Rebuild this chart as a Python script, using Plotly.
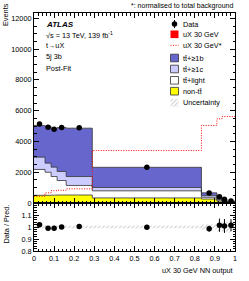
import numpy as np
import plotly.graph_objects as go

# ---------------- data ----------------
edges = [0.0, 0.055, 0.085, 0.115, 0.16, 0.29, 0.833, 0.91, 0.935, 0.96, 1.0]
nontt = [500, 500, 510, 520, 520, 330, 260, 120, 65, 35]
ttlight = [1680, 1500, 1210, 940, 620, 460, 110, 70, 35, 20]
ttc = [800, 590, 610, 590, 580, 220, 110, 60, 30, 15]
ttb = [2060, 2390, 2520, 2850, 3140, 1310, 180, 150, 105, 58]
signal = [3, 3, 3, 3, 3, 3, 2, 2, 1, 1]
signal_norm = [440, 660, 800, 830, 920, 3410, 5040, 5470, 5620, 5620]
data = [5140, 4930, 4800, 4900, 4885, 2320, 653, 408, 238, 131]
unc_rel = [0.012, 0.012, 0.012, 0.012, 0.011, 0.01, 0.02, 0.035, 0.04, 0.045]
ratio_err = [0.006, 0.006, 0.006, 0.006, 0.006, 0.006, 0.025, 0.055, 0.058, 0.05]
xticks = [0, 0.1, 0.2, 0.3, 0.4, 0.5, 0.6, 0.7, 0.8, 0.9, 1]
xticklabels = ["0", "0.1", "0.2", "0.3", "0.4", "0.5", "0.6", "0.7", "0.8", "0.9", "1"]
yticks = [0, 2000, 4000, 6000, 8000, 10000, 12000]
yticklabels = ["0", "2000", "4000", "6000", "8000", "10000", "12000"]
rticks = [0.8, 0.9, 1.0, 1.1]
rticklabels = ["0.8", "0.9", "1", "1.1"]

edges_a = np.array(edges)
centers = 0.5 * (edges_a[1:] + edges_a[:-1])
c1 = np.array(nontt, float)
c2 = c1 + np.array(ttlight)
c3 = c2 + np.array(ttc)
c4 = c3 + np.array(ttb)
c5 = c4 + np.array(signal)
total = c5
data_a = np.array(data, float)
ratio = data_a / total


def step(v):
    v = list(v)
    return v + [v[-1]]


FONT = "Liberation Sans, Arial, sans-serif"
FS = 7.3
YB = "#6666cc"
YC = "#ccccff"
OUT = "#333333"
HATCH = dict(shape="/", fgcolor="#888888", bgcolor="rgba(0,0,0,0)", size=3, solidity=0.3)
DOT = "1px,1.5px"

fig = go.Figure()

# stack (fill between successive step curves)
layers = [
    (c1, "#ffff00", "tozeroy"),
    (c2, "#ffffff", "tonexty"),
    (c3, YC, "tonexty"),
    (c4, YB, "tonexty"),
    (c5, "#ff0000", "tonexty"),
]
for vals, col, fill in layers:
    fig.add_trace(go.Scatter(x=edges, y=step(vals), mode="lines", line_shape="hv",
                             line=dict(color=OUT, width=0.8 if col != "#ff0000" else 0),
                             fill=fill, fillcolor=col, showlegend=False,
                             xaxis="x", yaxis="y", hoverinfo="skip"))

# uncertainty band main
lo = total * (1 - np.array(unc_rel))
hi = total * (1 + np.array(unc_rel))
fig.add_trace(go.Scatter(x=edges, y=step(lo), mode="lines", line_shape="hv",
                         line=dict(width=0), showlegend=False, xaxis="x", yaxis="y"))
fig.add_trace(go.Scatter(x=edges, y=step(hi), mode="lines", line_shape="hv",
                         line=dict(width=0), fill="tonexty", fillcolor="rgba(0,0,0,0)",
                         fillpattern=HATCH, showlegend=False, xaxis="x", yaxis="y"))

# normalised signal
fig.add_trace(go.Scatter(x=edges, y=step(signal_norm), mode="lines", line_shape="hv",
                         line=dict(color="#ff0000", width=1, dash=DOT),
                         showlegend=False, xaxis="x", yaxis="y"))

# data
fig.add_trace(go.Scatter(x=centers, y=data, mode="markers",
                         marker=dict(color="black", size=5.5),
                         error_y=dict(type="data", array=np.sqrt(data_a), color="black",
                                      thickness=1, width=0),
                         showlegend=False, xaxis="x", yaxis="y"))

# ratio band
rlo = 1 - np.array(unc_rel)
rhi = 1 + np.array(unc_rel)
fig.add_trace(go.Scatter(x=edges, y=step(rlo), mode="lines", line_shape="hv",
                         line=dict(width=0), showlegend=False, xaxis="x2", yaxis="y2"))
fig.add_trace(go.Scatter(x=edges, y=step(rhi), mode="lines", line_shape="hv",
                         line=dict(width=0), fill="tonexty", fillcolor="rgba(0,0,0,0)",
                         fillpattern=HATCH, showlegend=False, xaxis="x2", yaxis="y2"))
fig.add_trace(go.Scatter(x=centers, y=ratio, mode="markers",
                         marker=dict(color="black", size=5.5),
                         error_y=dict(type="data", array=ratio_err, color="black",
                                      thickness=1, width=0),
                         showlegend=False, xaxis="x2", yaxis="y2"))

# ---------------- layout ----------------
L, R, T, B = 34, 14, 13, 30
W, H = 249, 281
PH = H - T - B
split = (251 - 203) / PH
YMAX = 12350


def X(px):
    return (px - L) / (W - L - R)


def Y(py):
    return (203 - py) / 190 * YMAX


def PY(py):
    return (251 - py) / PH


axis_common = dict(showline=True, linecolor="black", linewidth=1, mirror="allticks",
                   ticks="inside", ticklen=5, tickcolor="black", tickwidth=0.8,
                   showgrid=False, zeroline=False, ticklabeloverflow="allow",
                   tickfont=dict(family=FONT, size=FS, color="black"))
minor = dict(ticklen=2.5, ticks="inside", tickcolor="black", tickwidth=0.8)

fig.update_layout(
    width=W, height=H, margin=dict(l=L, r=R, t=T, b=B),
    paper_bgcolor="white", plot_bgcolor="white", showlegend=False,
    xaxis=dict(domain=[0, 1], range=[0, 1], anchor="y", showticklabels=False,
               tickvals=xticks, minor=dict(dtick=0.02, **minor), **axis_common),
    yaxis=dict(domain=[split, 1], range=[0, YMAX], anchor="x",
               tickvals=yticks, ticktext=yticklabels,
               minor=dict(dtick=500, **minor), **axis_common),
    xaxis2=dict(domain=[0, 1], range=[0, 1], anchor="y2",
                tickvals=xticks, ticktext=xticklabels,
                minor=dict(dtick=0.02, **minor), **axis_common),
    yaxis2=dict(domain=[0, split], range=[0.8, 1.2], anchor="x2",
                tickvals=rticks, ticktext=rticklabels,
                minor=dict(dtick=0.02, **minor), **axis_common),
)

ann = []


def text(px, py, s, size=FS, anchor="left"):
    ann.append(dict(x=X(px), y=Y(py), xref="x", yref="y", text=s, showarrow=False,
                    xanchor=anchor, yanchor="middle",
                    font=dict(family=FONT, size=size, color="black")))


# ATLAS label
text(44, 24, "<b><i>ATLAS</i></b>", size=8)
text(44, 34.5, "√s = 13 TeV, 139 fb<sup>-1</sup>")
text(44, 45.5, "t→uX")
text(44, 56.8, "5j 3b")
text(44, 68.3, "Post-Fit")

# legend
leg = [
    (24, "Data"),
    (34.3, "uX 30 GeV"),
    (45.3, "uX 30 GeV*"),
    (58, "tt\u0304+≥1b"),
    (69, "tt\u0304+≥1c"),
    (80.3, "tt\u0304+light"),
    (91.2, "non-tt\u0304"),
    (102.8, "Uncertainty"),
]
for py, s in leg:
    text(180.5, py, s)

shapes = []
bx0, bx1 = X(170.5), X(178.5)
for py, col, lw in [(34.3, "#ff0000", 0), (58, YB, 0.8), (69, YC, 0.8), (80.3, "#ffffff", 0.8),
                    (91.2, "#ffff00", 0.8)]:
    shapes.append(dict(type="rect", xref="x", yref="y", x0=bx0, x1=bx1,
                       y0=Y(py + 3.8), y1=Y(py - 3.8), fillcolor=col,
                       line=dict(color=OUT if lw else col, width=lw if lw else 0)))
shapes.append(dict(type="line", xref="x", yref="y", x0=bx0, x1=bx1, y0=Y(45.3), y1=Y(45.3),
                   line=dict(color="#ff0000", width=1, dash=DOT)))
# legend data marker & uncertainty hatch
fig.add_trace(go.Scatter(x=[X(174.5)], y=[Y(24)], mode="markers",
                         marker=dict(color="black", size=5.5),
                         error_y=dict(type="constant", value=Y(20) - Y(24), color="black",
                                      thickness=1, width=0),
                         showlegend=False, xaxis="x", yaxis="y"))
fig.add_trace(go.Scatter(x=[bx0, bx1, bx1, bx0, bx0],
                         y=[Y(106.6), Y(106.6), Y(99), Y(99), Y(106.6)], mode="lines",
                         line=dict(width=0), fill="toself", fillcolor="rgba(0,0,0,0)",
                         fillpattern=HATCH, showlegend=False, xaxis="x", yaxis="y"))

# titles
ann.append(dict(x=1, y=PY(6), xref="paper", yref="paper", text="*: normalised to total background",
                showarrow=False, xanchor="right", yanchor="middle",
                font=dict(family=FONT, size=7, color="black")))
ann.append(dict(x=X(5.5), y=PY(1), xref="paper", yref="paper", text="Events", textangle=-90,
                showarrow=False, xanchor="center", yanchor="top",
                font=dict(family=FONT, size=FS, color="black")))
ann.append(dict(x=X(5.5), y=PY(224), xref="paper", yref="paper", text="Data / Pred.", textangle=-90,
                showarrow=False, xanchor="center", yanchor="middle",
                font=dict(family=FONT, size=FS, color="black")))
ann.append(dict(x=1, y=PY(270), xref="paper", yref="paper", text="uX 30 GeV NN output",
                showarrow=False, xanchor="right", yanchor="middle",
                font=dict(family=FONT, size=FS, color="black")))

fig.update_layout(annotations=ann, shapes=shapes)
fig.write_html("out.html", config={"displayModeBar": False},
               post_script="document.body.style.margin='0';")
